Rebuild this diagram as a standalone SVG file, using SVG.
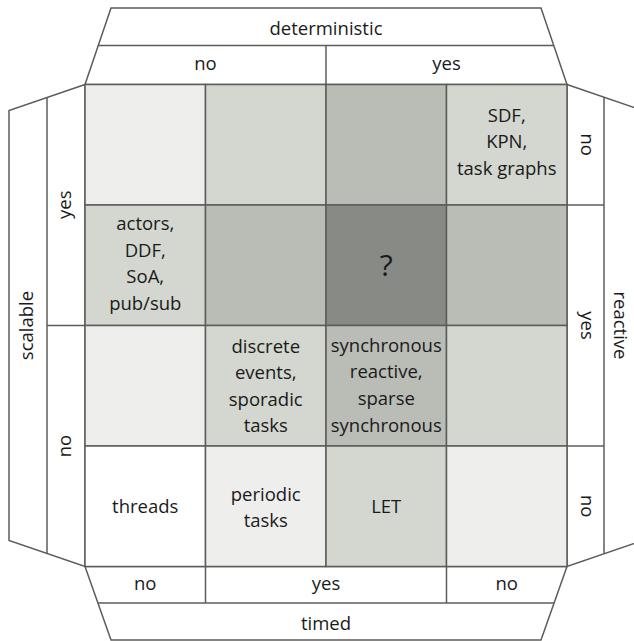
<svg xmlns="http://www.w3.org/2000/svg" width="634" height="641" viewBox="0 0 634 641">
<style>
.ln{stroke:#5c5c5a;stroke-width:1.5;fill:none}
.frame{fill:#ffffff;stroke:#5c5c5a;stroke-width:1.5}
.cell{stroke:#5c5c5a;stroke-width:1.5}
.t{font-family:"Open Sans","Noto Sans",sans-serif;font-size:18.5px;fill:#1a1a1a;text-anchor:middle}
.q{font-size:30px}
.c0{fill:#ffffff}.c1{fill:#eeeeec}.c2{fill:#d3d7cf}.c3{fill:#babdb6}.c4{fill:#888a85}
</style>
<rect width="634" height="641" fill="#ffffff"/>
<g id="axis-deterministic">
<polygon class="frame" points="111,8 541,8 567,84.5 85,84.5"/>
<line class="ln" x1="98" y1="45.6" x2="554" y2="45.6"/>
<line class="ln" x1="326" y1="45.6" x2="326" y2="84.5"/>
<text class="t" x="326" y="35">deterministic</text>
<text class="t" x="205.5" y="70">no</text>
<text class="t" x="446.5" y="70">yes</text>
</g>
<g id="axis-timed">
<polygon class="frame" points="85,566.5 567,566.5 541,640 111,640"/>
<line class="ln" x1="98" y1="603" x2="554" y2="603"/>
<line class="ln" x1="205.5" y1="566.5" x2="205.5" y2="603"/>
<line class="ln" x1="446.5" y1="566.5" x2="446.5" y2="603"/>
<text class="t" x="145.25" y="590">no</text>
<text class="t" x="326" y="590">yes</text>
<text class="t" x="506.75" y="590">no</text>
<text class="t" x="326" y="630">timed</text>
</g>
<g id="axis-scalable">
<polygon class="frame" points="85,84.5 9,110.5 9,540.5 85,566.5"/>
<line class="ln" x1="47" y1="97.5" x2="47" y2="553.5"/>
<line class="ln" x1="47" y1="325.5" x2="85" y2="325.5"/>
<text class="t" transform="translate(33,325.5) rotate(-90)">scalable</text>
<text class="t" transform="translate(71,204.75) rotate(-90)">yes</text>
<text class="t" transform="translate(71,446) rotate(-90)">no</text>
</g>
<g id="axis-reactive">
<polygon class="frame" points="567,84.5 643,110.5 643,540.5 567,566.5"/>
<line class="ln" x1="604" y1="97.3" x2="604" y2="553.7"/>
<line class="ln" x1="567" y1="205" x2="604" y2="205"/>
<line class="ln" x1="567" y1="446" x2="604" y2="446"/>
<text class="t" transform="translate(581,144.75) rotate(90)">no</text>
<text class="t" transform="translate(581,325.5) rotate(90)">yes</text>
<text class="t" transform="translate(581,506.25) rotate(90)">no</text>
<text class="t" transform="translate(613.5,325.5) rotate(90)">reactive</text>
</g>
<g id="cell-r1c1"><rect class="cell c1" x="85" y="84.5" width="120.5" height="120.5"/></g>
<g id="cell-r1c2"><rect class="cell c2" x="205.5" y="84.5" width="120.5" height="120.5"/></g>
<g id="cell-r1c3"><rect class="cell c3" x="326" y="84.5" width="120.5" height="120.5"/></g>
<g id="cell-r1c4"><rect class="cell c2" x="446.5" y="84.5" width="120.5" height="120.5"/>
<text class="t" x="506.75" y="121.7">SDF,</text>
<text class="t" x="506.75" y="148.3">KPN,</text>
<text class="t" x="506.75" y="175">task graphs</text>
</g>
<g id="cell-r2c1"><rect class="cell c2" x="85" y="205" width="120.5" height="120.5"/>
<text class="t" x="145.25" y="230">actors,</text>
<text class="t" x="145.25" y="256.7">DDF,</text>
<text class="t" x="145.25" y="283.3">SoA,</text>
<text class="t" x="145.25" y="309.7">pub/sub</text>
</g>
<g id="cell-r2c2"><rect class="cell c3" x="205.5" y="205" width="120.5" height="120.5"/></g>
<g id="cell-r2c3"><rect class="cell c4" x="326" y="205" width="120.5" height="120.5"/>
<text class="t q" x="386.25" y="275.7">?</text>
</g>
<g id="cell-r2c4"><rect class="cell c3" x="446.5" y="205" width="120.5" height="120.5"/></g>
<g id="cell-r3c1"><rect class="cell c1" x="85" y="325.5" width="120.5" height="120.5"/></g>
<g id="cell-r3c2"><rect class="cell c2" x="205.5" y="325.5" width="120.5" height="120.5"/>
<text class="t" x="265.75" y="352.5">discrete</text>
<text class="t" x="265.75" y="379">events,</text>
<text class="t" x="265.75" y="405.5">sporadic</text>
<text class="t" x="265.75" y="432">tasks</text>
</g>
<g id="cell-r3c3"><rect class="cell c3" x="326" y="325.5" width="120.5" height="120.5"/>
<text class="t" x="386.25" y="351.7">synchronous</text>
<text class="t" x="386.25" y="378.3">reactive,</text>
<text class="t" x="386.25" y="405">sparse</text>
<text class="t" x="386.25" y="431.5">synchronous</text>
</g>
<g id="cell-r3c4"><rect class="cell c2" x="446.5" y="325.5" width="120.5" height="120.5"/></g>
<g id="cell-r4c1"><rect class="cell c0" x="85" y="446" width="120.5" height="120.5"/>
<text class="t" x="145.25" y="513.3">threads</text>
</g>
<g id="cell-r4c2"><rect class="cell c1" x="205.5" y="446" width="120.5" height="120.5"/>
<text class="t" x="265.75" y="501">periodic</text>
<text class="t" x="265.75" y="527">tasks</text>
</g>
<g id="cell-r4c3"><rect class="cell c2" x="326" y="446" width="120.5" height="120.5"/>
<text class="t" x="386.25" y="513.3">LET</text>
</g>
<g id="cell-r4c4"><rect class="cell c1" x="446.5" y="446" width="120.5" height="120.5"/></g>
<g id="connectors"></g>
</svg>
